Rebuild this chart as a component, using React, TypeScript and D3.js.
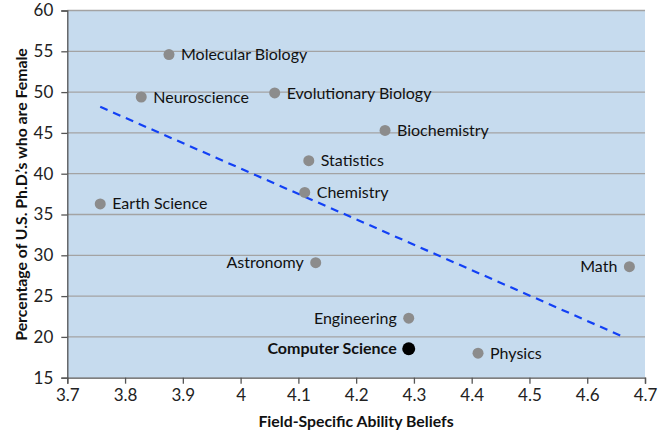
import React, { useRef, useEffect } from 'react';
import * as d3 from 'd3';

// field names and their values
const fields = [
  'Molecular Biology', 'Neuroscience', 'Evolutionary Biology', 'Biochemistry',
  'Statistics', 'Chemistry', 'Earth Science', 'Astronomy', 'Math',
  'Engineering', 'Computer Science', 'Physics',
];
const abilityBeliefs = [3.876, 3.828, 4.059, 4.25, 4.118, 4.111, 3.757, 4.13, 4.673, 4.291, 4.291, 4.411];
const pctFemale = [54.6, 49.4, 49.9, 45.3, 41.6, 37.7, 36.3, 29.1, 28.6, 22.3, 18.55, 18.0];

// trend line ends
const trendX = [3.757, 4.663];
const trendY = [48.2, 20.0];

const xTicks = [3.7, 3.8, 3.9, 4, 4.1, 4.2, 4.3, 4.4, 4.5, 4.6, 4.7];
const yTicks = [15, 20, 25, 30, 35, 40, 45, 50, 55, 60];

const leftLabels = new Set(['Astronomy', 'Math', 'Engineering', 'Computer Science']);

const W = 667, H = 433;
const margin = { top: 10.5, right: 22, bottom: 55.3, left: 67.3 };
const FONT = 'Lato, "Open Sans", sans-serif';

const ScatterChart: React.FC = () => {
  const svgRef = useRef<SVGSVGElement>(null);

  useEffect(() => {
    if (!svgRef.current) return;
    const svg = d3.select(svgRef.current);
    svg.selectAll('*').remove();

    const x = d3.scaleLinear().domain([3.7, 4.7]).range([margin.left, W - margin.right]);
    const y = d3.scaleLinear().domain([15, 60]).range([H - margin.bottom, margin.top]);

    // plot background
    svg.append('rect')
      .attr('x', x(3.7)).attr('y', y(60))
      .attr('width', x(4.7) - x(3.7)).attr('height', y(15) - y(60))
      .attr('fill', '#c6dbee');

    // gridlines
    svg.append('g').selectAll('line')
      .data(yTicks.filter(t => t > 15))
      .join('line')
      .attr('x1', x(3.7)).attr('x2', x(4.7))
      .attr('y1', d => y(d)).attr('y2', d => y(d))
      .attr('stroke', '#a3a3a3').attr('stroke-width', 1.3);

    // axes
    const yAxis = svg.append('g')
      .attr('transform', `translate(${x(3.7)},0)`)
      .call(d3.axisLeft(y).tickValues(yTicks).tickSize(6).tickPadding(8).tickFormat(d3.format('d')));
    const xAxis = svg.append('g')
      .attr('transform', `translate(0,${y(15)})`)
      .call(d3.axisBottom(x).tickValues(xTicks).tickSize(6).tickPadding(5).tickFormat(d => String(d)));

    [yAxis, xAxis].forEach(a => {
      a.select('.domain').attr('stroke', '#555').attr('stroke-width', 1.3);
      a.selectAll('.tick line').attr('stroke', '#555').attr('stroke-width', 1.3);
      a.selectAll('.tick text')
        .attr('fill', '#222').style('font-family', FONT).style('font-size', '17px');
    });

    // trend line
    const line = d3.line<number>()
      .x(d => x(d))
      .y((_, i) => y(trendY[i]));
    svg.append('path')
      .datum(trendX)
      .attr('d', line)
      .attr('fill', 'none')
      .attr('stroke', '#1240f5')
      .attr('stroke-width', 2.2)
      .attr('stroke-dasharray', '8,6');

    // points
    svg.append('g').selectAll('circle')
      .data(fields)
      .join('circle')
      .attr('cx', (_, i) => x(abilityBeliefs[i]))
      .attr('cy', (_, i) => y(pctFemale[i]))
      .attr('r', d => d === 'Computer Science' ? 6.5 : 5.5)
      .attr('fill', d => d === 'Computer Science' ? '#000' : '#8c8c8c');

    // labels
    svg.append('g').selectAll('text')
      .data(fields)
      .join('text')
      .attr('x', (d, i) => x(abilityBeliefs[i]) + (leftLabels.has(d) ? -12 : 12))
      .attr('y', (_, i) => y(pctFemale[i]))
      .attr('dy', '0.35em')
      .attr('text-anchor', d => leftLabels.has(d) ? 'end' : 'start')
      .style('font-family', FONT)
      .style('font-size', '16px')
      .style('font-weight', d => d === 'Computer Science' ? 'bold' : 'normal')
      .attr('fill', '#111')
      .text(d => d);

    // axis titles
    svg.append('text')
      .attr('x', 356).attr('y', 427)
      .attr('text-anchor', 'middle')
      .style('font-family', FONT).style('font-size', '15.8px').style('font-weight', 'bold')
      .attr('fill', '#111')
      .text('Field-Specific Ability Beliefs');
    svg.append('text')
      .attr('transform', 'translate(27,194.5) rotate(-90)')
      .attr('text-anchor', 'middle')
      .style('font-family', FONT).style('font-size', '15.8px').style('font-weight', 'bold')
      .attr('fill', '#111')
      .text('Percentage of U.S. Ph.D.\u2019s who are Female');
  }, []);

  return (
    <svg ref={svgRef} width={W} height={H}
      style={{ position: 'absolute', left: 0, top: 0, background: '#fff' }}></svg>
  );
};

export default function App() {
  return <ScatterChart />;
}
